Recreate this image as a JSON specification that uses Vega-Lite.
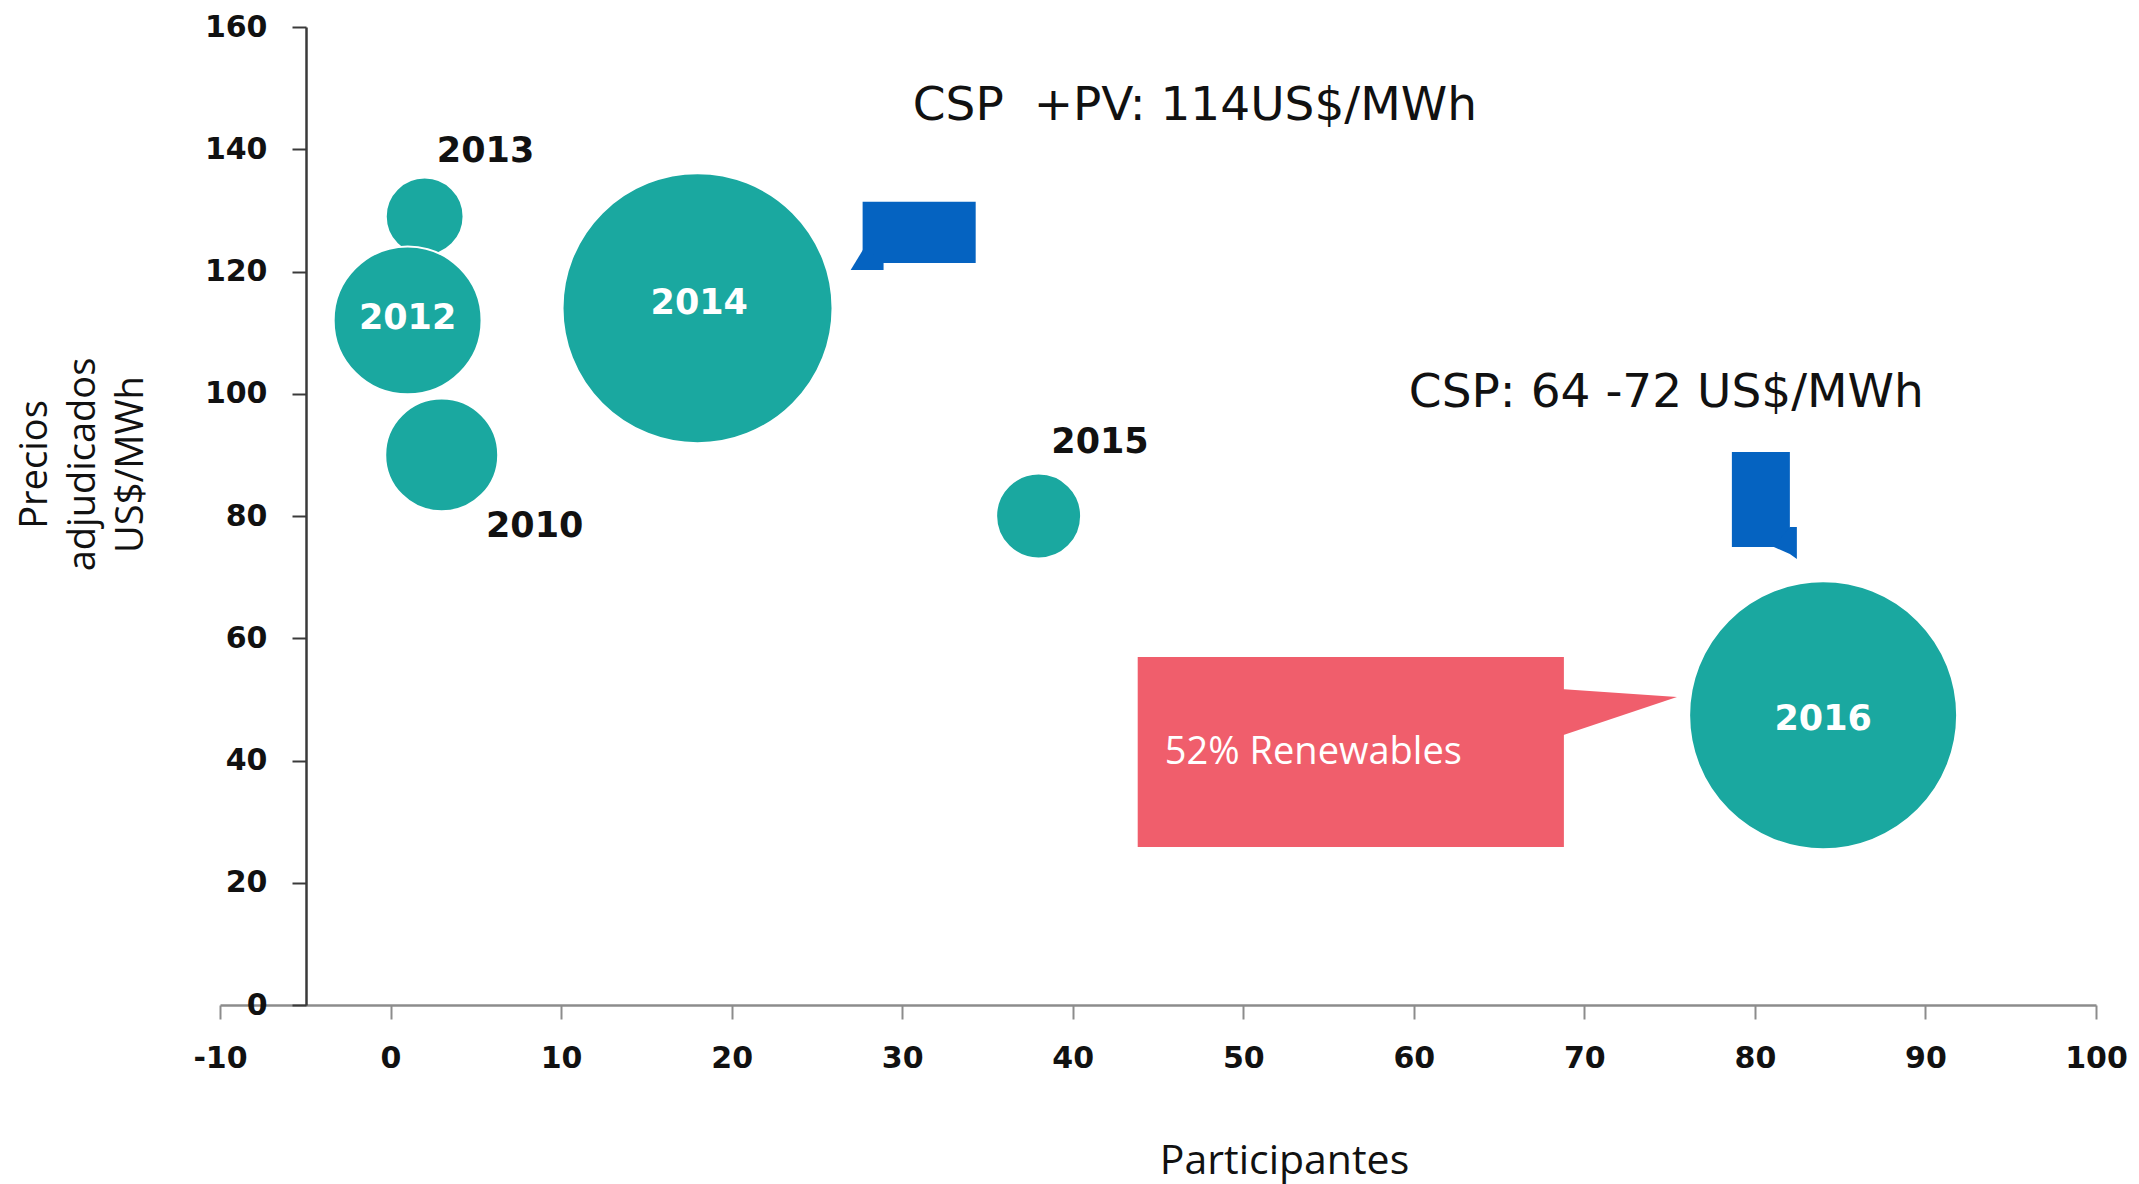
{
  "$schema": "https://vega.github.io/schema/vega-lite/v6.json",
  "width": 1876,
  "height": 978,
  "padding": {"left": 220, "top": 27, "right": 43, "bottom": 179},
  "autosize": {"type": "none"},
  "background": "white",
  "config": {"view": {"stroke": null}},
  "datasets": {
    "burbujas": [
      {"anio": "2013", "participantes": 2, "precio": 129, "tamano": 8.3},
      {"anio": "2010", "participantes": 3, "precio": 90, "tamano": 17.5},
      {"anio": "2012", "participantes": 1, "precio": 112, "tamano": 30},
      {"anio": "2014", "participantes": 18, "precio": 114, "tamano": 100},
      {"anio": "2015", "participantes": 38, "precio": 80, "tamano": 9.9},
      {"anio": "2016", "participantes": 84, "precio": 47.4, "tamano": 98.5}
    ],
    "etiquetas": [
      {"anio": "2013", "participantes": 5.57, "precio": 139.7, "pos": "fuera"},
      {"anio": "2010", "participantes": 8.45, "precio": 78.4, "pos": "fuera"},
      {"anio": "2015", "participantes": 41.6, "precio": 92.1, "pos": "fuera"},
      {"anio": "2012", "participantes": 1.0, "precio": 112.4, "pos": "dentro"},
      {"anio": "2014", "participantes": 18.1, "precio": 114.8, "pos": "dentro"},
      {"anio": "2016", "participantes": 84.0, "precio": 46.8, "pos": "dentro"}
    ],
    "notas": [
      {"texto": "CSP\u00a0 +PV: 114US$/MWh", "participantes": 30.62, "precio": 147.07},
      {"texto": "CSP: 64 -72 US$/MWh", "participantes": 59.71, "precio": 100.12}
    ],
    "recuadros": [
      {"tipo": "CSP+PV", "participantes": 27.68, "x2": 34.31, "precio": 121.4, "y2": 131.4},
      {"tipo": "CSP", "participantes": 78.65, "x2": 82.05, "precio": 74.93, "y2": 90.47},
      {"tipo": "Renovables", "participantes": 43.81, "x2": 68.8, "precio": 25.85, "y2": 56.93}
    ],
    "colas": [
      {"cola": "CSP+PV", "participantes": 26.98, "precio": 120.25, "y2": 120.25},
      {"cola": "CSP+PV", "participantes": 27.8, "precio": 124.0, "y2": 120.25},
      {"cola": "CSP+PV", "participantes": 28.91, "precio": 121.39, "y2": 120.25},
      {"cola": "CSP", "participantes": 81.11, "precio": 74.93, "y2": 74.93},
      {"cola": "CSP", "participantes": 82.05, "precio": 78.2, "y2": 73.78},
      {"cola": "CSP", "participantes": 82.46, "precio": 78.2, "y2": 72.97},
      {"cola": "Renovables", "participantes": 68.6, "precio": 51.7, "y2": 44.01},
      {"cola": "Renovables", "participantes": 75.43, "precio": 50.39, "y2": 50.39}
    ],
    "renovables": [
      {"texto": "52% Renewables", "participantes": 45.4, "precio": 41.23}
    ]
  },
  "encoding": {
    "x": {
      "field": "participantes", "type": "quantitative",
      "scale": {"domain": [-10, 100], "nice": false, "zero": false},
      "axis": {
        "title": "Participantes",
        "values": [-10, 0, 10, 20, 30, 40, 50, 60, 70, 80, 90, 100],
        "labelExpr": "datum.value < 0 ? '-' + abs(datum.value) : datum.label",
        "grid": false,
        "domainColor": "#8c8c8c", "domainWidth": 2.5,
        "tickColor": "#8c8c8c", "tickWidth": 2, "tickSize": 14,
        "labelFont": "DejaVu Sans", "labelFontWeight": "bold", "labelFontSize": 30,
        "labelColor": "#111111", "labelPadding": 24, "labelFlush": false, "labelOverlap": false,
        "titleFont": "Open Sans", "titleFontSize": 41, "titleFontWeight": "normal", "titleColor": "#111111",
        "titleX": 1064, "titleY": 156, "titleAlign": "center", "titleBaseline": "middle"
      }
    },
    "y": {
      "field": "precio", "type": "quantitative",
      "scale": {"domain": [0, 160], "nice": false},
      "axis": {
        "title": ["Precios", "adjudicados", "US$/MWh"],
        "values": [0, 20, 40, 60, 80, 100, 120, 140, 160],
        "offset": -86,
        "grid": false,
        "domainColor": "#3a3a3a", "domainWidth": 2.5,
        "tickColor": "#3a3a3a", "tickWidth": 2, "tickSize": 14,
        "labelFont": "DejaVu Sans", "labelFontWeight": "bold", "labelFontSize": 30,
        "labelColor": "#111111", "labelPadding": 25, "labelFlush": false, "labelOverlap": false,
        "titleFont": "Open Sans", "titleFontSize": 38, "titleFontWeight": "normal", "titleColor": "#111111",
        "titleX": -271, "titleY": 437, "titleAngle": -90, "titleAlign": "center", "titleBaseline": "middle",
        "titleLineHeight": 48
      }
    }
  },
  "layer": [
    {
      "data": {"name": "burbujas"},
      "mark": {"type": "circle", "color": "#1AA8A0", "opacity": 1, "stroke": "white", "strokeWidth": 2},
      "encoding": {
        "size": {
          "field": "tamano", "type": "quantitative",
          "scale": {"type": "linear", "domain": [0, 100], "range": [0, 72900], "zero": true},
          "legend": null
        }
      }
    },
    {
      "data": {"name": "recuadros"},
      "transform": [{"filter": "datum.tipo !== 'Renovables'"}],
      "mark": {"type": "rect", "color": "#0563C1"},
      "encoding": {
        "x2": {"field": "x2"},
        "y2": {"field": "y2"}
      }
    },
    {
      "data": {"name": "colas"},
      "transform": [{"filter": "datum.cola !== 'Renovables'"}],
      "mark": {"type": "area", "color": "#0563C1", "opacity": 1},
      "encoding": {
        "y2": {"field": "y2"},
        "detail": {"field": "cola"}
      }
    },
    {
      "data": {"name": "recuadros"},
      "transform": [{"filter": "datum.tipo === 'Renovables'"}],
      "mark": {"type": "rect", "color": "#F05E6C"},
      "encoding": {
        "x2": {"field": "x2"},
        "y2": {"field": "y2"}
      }
    },
    {
      "data": {"name": "colas"},
      "transform": [{"filter": "datum.cola === 'Renovables'"}],
      "mark": {"type": "area", "color": "#F05E6C", "opacity": 1},
      "encoding": {
        "y2": {"field": "y2"},
        "detail": {"field": "cola"}
      }
    },
    {
      "data": {"name": "etiquetas"},
      "transform": [{"filter": "datum.pos === 'fuera'"}],
      "mark": {"type": "text", "font": "DejaVu Sans", "fontWeight": "bold", "fontSize": 35, "color": "#111111", "align": "center", "baseline": "middle"},
      "encoding": {
        "text": {"field": "anio"}
      }
    },
    {
      "data": {"name": "etiquetas"},
      "transform": [{"filter": "datum.pos === 'dentro'"}],
      "mark": {"type": "text", "font": "DejaVu Sans", "fontWeight": "bold", "fontSize": 35, "color": "#ffffff", "align": "center", "baseline": "middle"},
      "encoding": {
        "text": {"field": "anio"}
      }
    },
    {
      "data": {"name": "notas"},
      "mark": {"type": "text", "font": "DejaVu Sans", "fontSize": 47, "color": "#111111", "align": "left", "baseline": "middle"},
      "encoding": {
        "text": {"field": "texto"}
      }
    },
    {
      "data": {"name": "renovables"},
      "mark": {"type": "text", "font": "Open Sans", "fontSize": 38, "color": "#ffffff", "align": "left", "baseline": "middle"},
      "encoding": {
        "text": {"field": "texto"}
      }
    }
  ]
}
